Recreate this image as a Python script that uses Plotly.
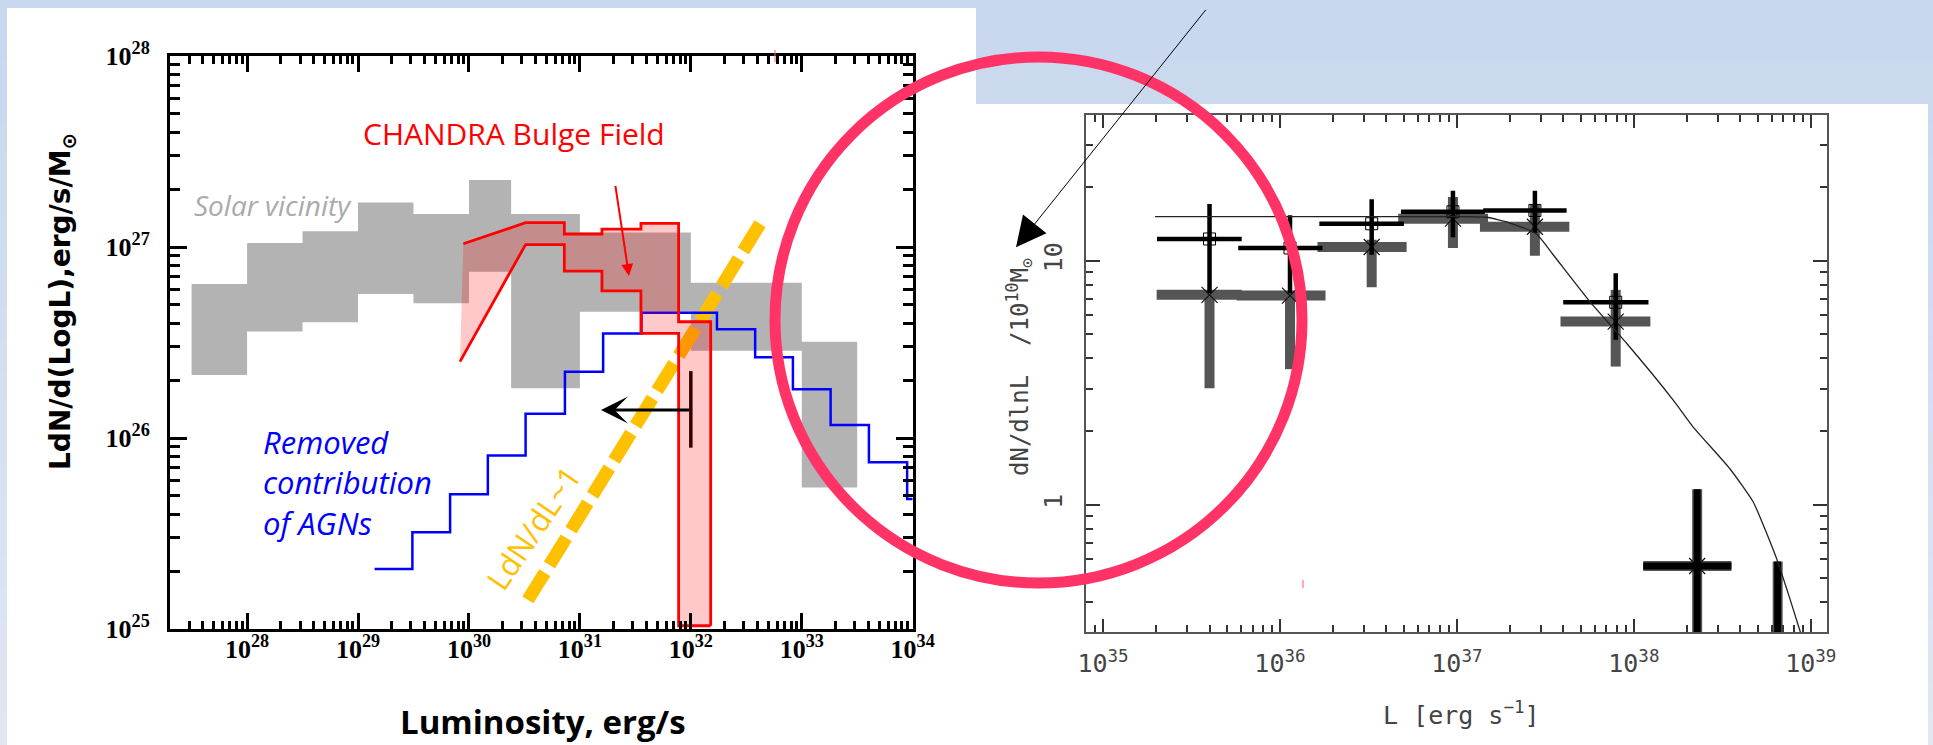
import math
import plotly.graph_objects as go

W, H = 1933, 745

# ---------------- left panel data ----------------
solar_edges = [3.16e27, 1e28, 3.16e28, 1e29, 3.16e29, 1e30, 2.4e30, 1e31, 1e32, 1e33, 3.16e33]
solar_hi = [6.4e26, 1.05e27, 1.21e27, 1.71e27, 1.49e27, 2.24e27, 1.49e27, 1.19e27, 6.5e26, 3.19e26]
solar_lo = [2.14e26, 3.61e26, 4.04e26, 5.68e26, 5.07e26, 7.43e26, 1.82e26, 4.58e26, 2.86e26, 5.5e25]

bulge_edges = [3.24e30, 7.24e30, 1.58e31, 3.55e31, 7.76e31, 1.51e32]
bulge_hi = [1.34e27, 1.17e27, 1.24e27, 1.33e27, 4.06e26]
bulge_lo = [1.03e27, 7.48e26, 5.89e26, 3.53e26, 1.04e25]
bulge_hi_start = [8.9e29, 1.04e27]
bulge_lo_start = [8.3e29, 2.51e26]
bulge_floor = 1.04e25

agn_edges = [1.41e29, 3.09e29, 6.76e29, 1.48e30, 3.24e30, 7.33e30, 1.62e31, 3.59e31,
             1.72e32, 3.80e32, 8.32e32, 1.82e33, 4.03e33, 8.91e33, 1e34]
agn_vals = [2.06e25, 3.21e25, 5.07e25, 8.09e25, 1.34e26, 2.22e26, 3.53e26, 4.53e26,
            3.71e26, 2.65e26, 1.80e26, 1.17e26, 7.46e25, 4.80e25]

slope_L = [3.4e30, 4.3e32]
slope_val = [1.42e25, 1.35e27]

limit_L = 1.0e32
limit_val = 1.4e26
limit_bar = [8.9e25, 2.24e26]
limit_arrow_to = 1.55e31

bulge_arrow_from = [2.08e31, 2.13e27]
bulge_arrow_to = [2.77e31, 7.05e26]

# ---------------- right panel data ----------------
L_bins = [4.0e35, 1.14e36, 3.3e36, 9.5e36, 2.76e37, 7.9e37, 2.28e38, 6.5e38]
a_val = [7.26, 7.21, 11.4, 14.9, 13.8, 5.64, 0.562, 0.586]
a_lo = [3.01, 3.60, 7.80, 11.3, 10.5, 3.69, 0.30, 0.30]
a_hi = [7.26, 7.21, 12.2, 18.3, 17.0, 7.61, 1.16, 0.586]
a_Llo = [2.01e35, 5.69e35, 1.63e36, 4.66e36, 1.35e37, 3.85e37, 1.13e38, 6.5e38]
a_Lhi = [6.08e35, 1.81e36, 5.2e36, 1.50e37, 4.32e37, 1.24e38, 3.56e38, 6.5e38]

b_val = [12.3, 11.3, 14.2, 15.9, 16.1, 6.77, 0.562, 0.586]
b_lo = [7.39, 7.37, 10.6, 12.5, 13.0, 4.75, 0.30, 0.30]
b_hi = [17.1, 15.4, 17.9, 19.4, 19.4, 8.90, 1.16, 0.586]
b_Llo = [2.02e35, 5.81e35, 1.67e36, 4.83e36, 1.41e37, 3.99e37, 1.13e38, 6.5e38]
b_Lhi = [6.08e35, 1.74e36, 5.02e36, 1.44e37, 4.17e37, 1.21e38, 3.56e38, 6.5e38]

model_L = [1.97e35, 1.0e37, 1.47e37, 2.0e37, 2.82e37, 3.5e37, 5.64e37, 9.1e37, 1.67e38,
           2.16e38, 3.48e38, 4.72e38, 6.4e38, 7.6e38, 8.75e38]
model_val = [15.2, 15.2, 15.1, 14.3, 12.9, 10.6, 6.81, 4.60, 2.69, 2.09, 1.41, 1.03, 0.605, 0.415, 0.30]


def PX(x):
    return x / W


def PY(y):
    return 1 - y / H


def steps(edges, vals):
    xs, ys = [], []
    for i, v in enumerate(vals):
        xs += [edges[i], edges[i + 1]]
        ys += [v, v]
    return xs, ys


def crosses(xc, yc, xlo, xhi, ylo, yhi, idx):
    xs, ys = [], []
    for i in idx:
        xs += [xlo[i], xhi[i], None, xc[i], xc[i], None]
        ys += [yc[i], yc[i], None, ylo[i], yhi[i], None]
    return xs, ys


fig = go.Figure()
common = dict(hoverinfo='skip', showlegend=False)

# ---- left panel traces ----
tx, ty = steps(solar_edges, solar_hi)
bx, by = steps(solar_edges, solar_lo)
fig.add_trace(go.Scatter(x=tx + bx[::-1], y=ty + by[::-1], mode='lines', fill='toself',
                         fillcolor='#b3b3b3', line=dict(width=0), xaxis='x', yaxis='y', **common))

fig.add_trace(go.Scatter(x=slope_L, y=slope_val, mode='lines',
                         line=dict(color='#ffc000', width=13, dash='32px,9px'),
                         xaxis='x', yaxis='y', **common))

fig.add_trace(go.Scatter(x=agn_edges, y=agn_vals + [agn_vals[-1]], mode='lines', line_shape='hv',
                         line=dict(color='#0000ff', width=2.5), xaxis='x', yaxis='y', **common))

fig.add_trace(go.Scatter(x=[limit_L, limit_L], y=limit_bar, mode='lines',
                         line=dict(color='#000000', width=3.5), xaxis='x', yaxis='y', **common))

ux, uy = steps(bulge_edges, bulge_hi)
ux = [bulge_hi_start[0]] + ux + [bulge_edges[-1]]
uy = [bulge_hi_start[1]] + uy + [bulge_floor]
lx, ly = steps(bulge_edges, bulge_lo)
lx = [bulge_lo_start[0]] + lx
ly = [bulge_lo_start[1]] + ly
fig.add_trace(go.Scatter(x=ux + lx[::-1], y=uy + ly[::-1], mode='lines', fill='toself',
                         fillcolor='rgba(255,0,0,0.21)', line=dict(width=0),
                         xaxis='x', yaxis='y', **common))
fig.add_trace(go.Scatter(x=ux, y=uy, mode='lines', line=dict(color='#ff0000', width=2.8),
                         xaxis='x', yaxis='y', **common))
fig.add_trace(go.Scatter(x=lx, y=ly, mode='lines', line=dict(color='#ff0000', width=2.8),
                         xaxis='x', yaxis='y', **common))

# ---- right panel traces ----
gx, gy = crosses(L_bins, a_val, a_Llo, a_Lhi, a_lo, a_hi, range(8))
fig.add_trace(go.Scatter(x=gx, y=gy, mode='lines', line=dict(color='#555555', width=10),
                         xaxis='x2', yaxis='y2', **common))
fig.add_trace(go.Scatter(x=L_bins[:7], y=a_val[:7], mode='markers',
                         marker=dict(symbol='x-thin-open', size=16, color='#111111',
                                     line=dict(color='#111111', width=1.2)),
                         xaxis='x2', yaxis='y2', **common))
kx, ky = crosses(L_bins, b_val, b_Llo, b_Lhi, b_lo, b_hi, range(6))
fig.add_trace(go.Scatter(x=kx, y=ky, mode='lines', line=dict(color='#000000', width=4.5),
                         xaxis='x2', yaxis='y2', **common))
kx2, ky2 = crosses(L_bins, b_val, b_Llo, b_Lhi, b_lo, b_hi, range(6, 8))
fig.add_trace(go.Scatter(x=kx2, y=ky2, mode='lines', line=dict(color='#000000', width=7),
                         xaxis='x2', yaxis='y2', **common))
fig.add_trace(go.Scatter(x=L_bins[:6], y=b_val[:6], mode='markers',
                         marker=dict(symbol='square-open', size=12, color='#000000',
                                     line=dict(color='#000000', width=1)),
                         xaxis='x2', yaxis='y2', **common))
fig.add_trace(go.Scatter(x=model_L, y=model_val, mode='lines', line_shape='spline',
                         line=dict(color='#222222', width=1.3, smoothing=0.5),
                         xaxis='x2', yaxis='y2', **common))

# ---- axes ----
left_tick_font = dict(family='Liberation Serif', size=26, color='#000', weight='bold')
right_font = 'DejaVu Sans Mono'
fig.update_layout(
    xaxis=dict(type='log', range=[27.305, 34.0], domain=[PX(170), PX(912.7)], anchor='y',
               showline=True, linewidth=3, linecolor='#000', mirror='allticks',
               ticks='inside', ticklen=16, tickwidth=3, tickcolor='#000',
               tickmode='array', tickvals=[10.0 ** e for e in range(28, 35)],
               ticktext=[f'10<sup>{e}</sup>' for e in range(28, 35)],
               tickfont=left_tick_font, ticklabelstandoff=-5, automargin=False,
               showgrid=False, zeroline=False,
               minor=dict(ticks='inside', ticklen=8, tickwidth=2.5, tickcolor='#000',
                          tickvals=[k * 10.0 ** d for d in range(27, 34) for k in range(2, 10)])),
    yaxis=dict(type='log', range=[25, 28], domain=[PY(629), PY(56)], anchor='x',
               showline=True, linewidth=3, linecolor='#000', mirror='allticks',
               ticks='inside', ticklen=17, tickwidth=3, tickcolor='#000',
               tickmode='array', tickvals=[10.0 ** e for e in range(25, 29)],
               ticktext=[f'10<sup>{e}</sup>' for e in range(25, 29)],
               tickfont=left_tick_font, ticklabelstandoff=12, automargin=False,
               showgrid=False, zeroline=False,
               minor=dict(ticks='inside', ticklen=10, tickwidth=2.5, tickcolor='#000',
                          tickvals=[k * 10.0 ** d for d in range(25, 28) for k in range(2, 10)])),
    xaxis2=dict(type='log', range=[34.904, 39.09], domain=[PX(1086), PX(1826.7)], anchor='y2',
                showline=True, linewidth=2, linecolor='#555', mirror='allticks',
                ticks='inside', ticklen=13, tickwidth=1.5, tickcolor='#333',
                tickmode='array', tickvals=[10.0 ** e for e in range(35, 40)],
                ticktext=[f'10<sup>{e}</sup>' for e in range(35, 40)],
                tickfont=dict(family=right_font, size=25, color='#444'), ticklabelstandoff=8,
                automargin=False, showgrid=False, zeroline=False,
                minor=dict(ticks='inside', ticklen=7, tickwidth=1.5, tickcolor='#333',
                           tickvals=[k * 10.0 ** d for d in range(34, 39) for k in range(2, 10)])),
    yaxis2=dict(type='log', range=[-0.522, 1.598], domain=[PY(632.3), PY(115)], anchor='x2',
                showline=True, linewidth=2, linecolor='#555', mirror='allticks',
                ticks='inside', ticklen=14, tickwidth=1.5, tickcolor='#333',
                tickmode='array', tickvals=[1, 10], ticktext=['1', '10'], tickangle=-90,
                tickfont=dict(family=right_font, size=25, color='#444'), ticklabelstandoff=12,
                automargin=False, showgrid=False, zeroline=False,
                minor=dict(ticks='inside', ticklen=7, tickwidth=1.5, tickcolor='#333',
                           tickvals=[0.3, 0.4, 0.5, 0.6, 0.7, 0.8, 0.9, 2, 3, 4, 5, 6, 7, 8, 9, 20, 30])),
)

# ---- background shapes ----
shapes = []
nb = 24
for i in range(nb):
    t = i / (nb - 1)
    r = int(200 + 24 * t)
    g = int(216 + 15 * t)
    b = int(238 + 4 * t)
    shapes.append(dict(type='rect', xref='paper', yref='paper', x0=0, x1=1,
                       y0=PY((i + 1) * H / nb) - 0.002, y1=PY(i * H / nb) + 0.002,
                       fillcolor=f'rgb({r},{g},{b})', line=dict(width=0), layer='below'))
shapes.append(dict(type='rect', xref='paper', yref='paper', x0=PX(7), x1=PX(976), y0=0, y1=PY(8),
                   fillcolor='white', line=dict(width=0), layer='below'))
shapes.append(dict(type='rect', xref='paper', yref='paper', x0=PX(975), x1=PX(1928), y0=0, y1=PY(104),
                   fillcolor='white', line=dict(width=0), layer='below'))
# tiny pink marks
shapes.append(dict(type='line', xref='paper', yref='paper', x0=PX(775), x1=PX(775), y0=PY(62), y1=PY(50),
                   line=dict(color='#ff5a7a', width=1), layer='above'))
shapes.append(dict(type='line', xref='paper', yref='paper', x0=PX(1303), x1=PX(1303), y0=PY(588), y1=PY(580),
                   line=dict(color='#ff5a7a', width=1), layer='above'))
# big red circle
shapes.append(dict(type='circle', xref='paper', yref='paper', x0=PX(775), x1=PX(1302),
                   y0=PY(583), y1=PY(57), line=dict(color='#ff3366', width=11), layer='above'))

# ---- annotations ----
C = dict(xanchor='center', yanchor='middle', showarrow=False)
ann = []
ann.append(dict(xref='paper', yref='paper', x=PX(513.5), y=PY(133), text='CHANDRA Bulge Field',
                font=dict(family='Open Sans', size=30, color='#ff0000'), **C))
ann.append(dict(xref='paper', yref='paper', x=PX(273), y=PY(205), text='Solar vicinity',
                font=dict(family='Open Sans', size=28, color='#aaaaaa', style='italic'), **C))
ann.append(dict(xref='paper', yref='paper', x=PX(261), y=PY(482), xanchor='left', yanchor='middle',
                align='left', text='Removed<br>contribution<br>of AGNs', showarrow=False,
                font=dict(family='Open Sans', size=31, color='#0000ff', style='italic')))
ann.append(dict(xref='paper', yref='paper', x=PX(533), y=PY(528), text='LdN/dL~1',
                textangle=-56, font=dict(family='Open Sans', size=31, color='#ffc000'), **C))
ann.append(dict(xref='paper', yref='paper', x=PX(62), y=PY(302), text='LdN/d(LogL),erg/s/M<sub>⊙</sub>',
                textangle=-90, font=dict(family='DejaVu Sans', size=28, color='#000', weight='bold'), **C))
ann.append(dict(xref='paper', yref='paper', x=PX(543), y=PY(721), text='Luminosity, erg/s',
                font=dict(family='Open Sans', size=33, color='#000', weight='bold'), **C))
ann.append(dict(xref='paper', yref='paper', x=PX(1019), y=PY(367),
                text='dN/dlnL  /10<sup>10</sup>M<sub>⊙</sub>', textangle=-90,
                font=dict(family=right_font, size=24, color='#444'), **C))
ann.append(dict(xref='paper', yref='paper', x=PX(1461), y=PY(713), text='L [erg s<sup>−1</sup>]',
                font=dict(family=right_font, size=25, color='#444'), **C))
# arrows
ann.append(dict(xref='x', yref='y', x=math.log10(limit_arrow_to), y=math.log10(limit_val),
                axref='x', ayref='y', ax=math.log10(limit_L), ay=math.log10(limit_val),
                text='', showarrow=True, arrowhead=3, arrowsize=1.5, arrowwidth=3, arrowcolor='#000'))
ann.append(dict(xref='x', yref='y', x=math.log10(bulge_arrow_to[0]), y=math.log10(bulge_arrow_to[1]),
                axref='x', ayref='y', ax=math.log10(bulge_arrow_from[0]), ay=math.log10(bulge_arrow_from[1]),
                text='', showarrow=True, arrowhead=2, arrowsize=1.2, arrowwidth=2, arrowcolor='#ff0000'))
ann.append(dict(xref='paper', yref='paper', x=PX(1016), y=PY(247.3), ax=191, ay=-239,
                text='', showarrow=True, arrowhead=2, arrowsize=6, arrowwidth=1, arrowcolor='#000'))

fig.update_layout(width=W, height=H, autosize=False,
                  margin=dict(l=0, r=0, t=0, b=0, pad=0, autoexpand=False),
                  paper_bgcolor='#d4dff0', plot_bgcolor='rgba(0,0,0,0)', showlegend=False,
                  shapes=shapes, annotations=ann)

fig.write_html("out.html", config={'displayModeBar': False},
               post_script="document.body.style.margin='0';document.body.style.overflow='hidden';")
